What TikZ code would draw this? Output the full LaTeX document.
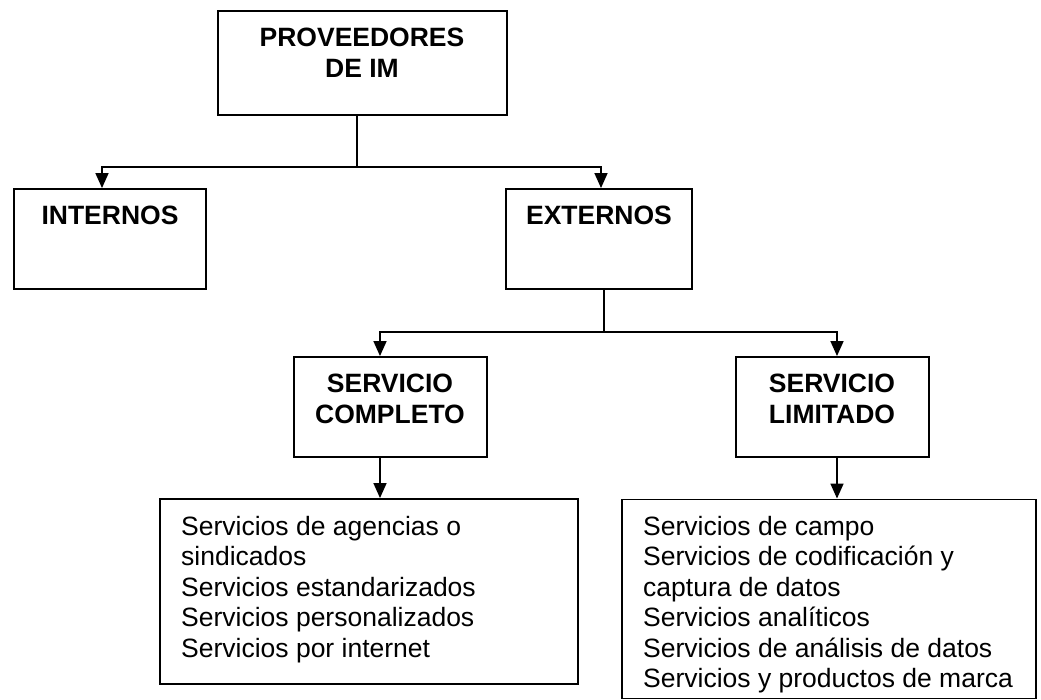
\documentclass[tikz,border=0pt]{standalone}
\usepackage{fontspec}
\setmainfont{Liberation Sans}
\usetikzlibrary{arrows.meta,positioning}
\tikzset{>={Triangle[length=15pt,width=13pt]}}
\tikzset{caja/.style={draw, line width=1.9pt, inner sep=0pt},
  titulo/.style={font=\fontsize{26.5}{31}\selectfont\bfseries, inner sep=0pt, anchor=base},
  lista/.style={font=\fontsize{26.5}{30.5}\selectfont, inner sep=0pt, anchor=base west},
  linea/.style={line width=1.6pt},
  tallo/.style={line width=1.1pt}}

\begin{document}
\begin{tikzpicture}[x=1pt,y=-1pt]
\useasboundingbox (0,0) rectangle (1041,700);

% cajas
\node[caja, minimum width=289pt, minimum height=104pt] (prov) at (362.5,63) {};
\node[caja, minimum width=192pt, minimum height=100pt] (intern) at (110,239) {};
\node[caja, minimum width=186pt, minimum height=100pt] (extern) at (599,239) {};
\node[caja, minimum width=193pt, minimum height=100pt] (compl) at (390.5,407) {};
\node[caja, minimum width=193pt, minimum height=100pt] (limit) at (832.5,407) {};
\node[caja, minimum width=418pt, minimum height=185pt] (listi) at (369,591.5) {};
\node[caja, minimum width=414pt, minimum height=199pt] (listd) at (829,599) {};

% textos
\node[titulo] (provt) at (362,47) {\begin{tabular}[t]{@{}c@{}}PROVEEDORES\\DE IM\end{tabular}};
\node[titulo] (internt) at (110,225) {INTERNOS};
\node[titulo] (externt) at (599,225) {EXTERNOS};
\node[titulo] (complt) at (390,392) {\begin{tabular}[t]{@{}c@{}}SERVICIO\\COMPLETO\end{tabular}};
\node[titulo] (limitt) at (832,392) {\begin{tabular}[t]{@{}c@{}}SERVICIO\\LIMITADO\end{tabular}};

\node[lista] (listit) at (181,535) {\begin{tabular}[t]{@{}l@{}}Servicios de agencias o\\
  sindicados\\
  Servicios estandarizados\\
  Servicios personalizados\\
  Servicios por internet\end{tabular}};
\node[lista] (listdt) at (643,535) {\begin{tabular}[t]{@{}l@{}}Servicios de campo\\
  Servicios de codificación y\\
  captura de datos\\
  Servicios analíticos\\
  Servicios de análisis de datos\\
  Servicios y productos de marca\end{tabular}};

% conectores
\coordinate (r1) at (357,167);
\coordinate (r2) at (604,332);
\draw[tallo] (prov.south -| r1) -- (r1);
\draw[linea,->] (r1) -| ([xshift=-8pt]intern.north);
\draw[linea,->] (r1) -| ([xshift=2pt]extern.north);
\draw[tallo] (extern.south -| r2) -- (r2);
\draw[linea,->] (r2) -| ([xshift=-10.5pt]compl.north);
\draw[linea,->] (r2) -| ([xshift=4.5pt]limit.north);
\draw[linea,->] ([xshift=-10.5pt]compl.south) -- ([xshift=-10.5pt]compl.south |- listi.north);
\draw[linea,->] ([xshift=4.5pt]limit.south) -- ([xshift=4.5pt]limit.south |- listd.north);
\end{tikzpicture}
\end{document}
